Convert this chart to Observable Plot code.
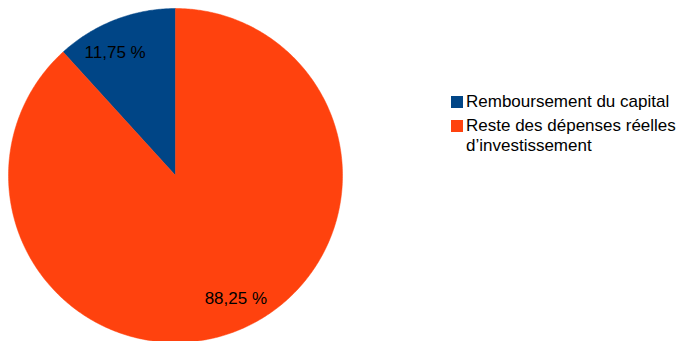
<!DOCTYPE html>
<html>
<head>
<meta charset="utf-8">
<script src="https://cdn.jsdelivr.net/npm/d3@7"></script>
<script src="https://cdn.jsdelivr.net/npm/@observablehq/plot@0.6"></script>
<style>
  html, body { margin: 0; padding: 0; background: #fff; }
  #wrap { position: relative; width: 679px; height: 341px; font-family: "Liberation Sans", Arial, sans-serif; }
  #legend { position: absolute; left: 451px; top: 92px; font-size: 17px; color: #000; line-height: 20px; }
  .item { display: flex; align-items: flex-start; margin-bottom: 4px; }
  .sw { width: 12px; height: 12px; margin-top: 4px; margin-right: 3px; flex: none; }
</style>
</head>
<body>
<div id="wrap"><div id="legend"></div></div>
<script>
const categories = ["Remboursement du capital", "Reste des dépenses réelles d’investissement"];
const shares = [11.75, 88.25];
const labels = ["11,75 %", "88,25 %"];
const colors = ["#004586", "#ff420e"];

const W = 679, H = 341;
const cx = 175, cy = 175, R = 167;

// slices: start at 12 o'clock, go counterclockwise
const total = d3.sum(shares);
const polys = [];
const texts = [];
let a = Math.PI / 2;
shares.forEach((v, i) => {
  const span = v / total * 2 * Math.PI;
  const a0 = a, a1 = a + span;
  const n = Math.max(4, Math.ceil(span / 0.01));
  polys.push({k: i, x: 0, y: 0});
  for (let j = 0; j <= n; j++) {
    const t = a0 + span * j / n;
    polys.push({k: i, x: Math.cos(t), y: Math.sin(t)});
  }
  polys.push({k: i, x: 0, y: 0});
  const m = (a0 + a1) / 2 + 5 * Math.PI / 180;
  texts.push({label: labels[i], x: 0.82 * Math.cos(m), y: 0.82 * Math.sin(m)});
  a = a1;
});

const chart = Plot.plot({
  width: W, height: H,
  margin: 0,
  x: {domain: [-cx / R, (W - cx) / R], range: [0, W], axis: null},
  y: {domain: [-(H - cy) / R, cy / R], range: [H, 0], axis: null},
  color: {domain: [0, 1], range: colors},
  marks: [
    Plot.line(polys, {x: "x", y: "y", z: "k", fill: d => colors[d.k], stroke: d => colors[d.k], strokeWidth: 0.5, curve: "linear"}),
    Plot.text(texts, {x: "x", y: "y", text: "label", fontSize: 17, fill: "#000", fontFamily: "Liberation Sans"})
  ],
  style: {fontFamily: "Liberation Sans", background: "transparent"}
});
document.getElementById("wrap").prepend(chart);

const legend = document.getElementById("legend");
categories.forEach((c, i) => {
  const it = document.createElement("div");
  it.className = "item";
  const sw = document.createElement("div");
  sw.className = "sw";
  sw.style.background = colors[i];
  const tx = document.createElement("div");
  tx.innerHTML = i === 1 ? "Reste des dépenses réelles<br>d’investissement" : c;
  it.appendChild(sw); it.appendChild(tx);
  legend.appendChild(it);
});
</script>
</body>
</html>
